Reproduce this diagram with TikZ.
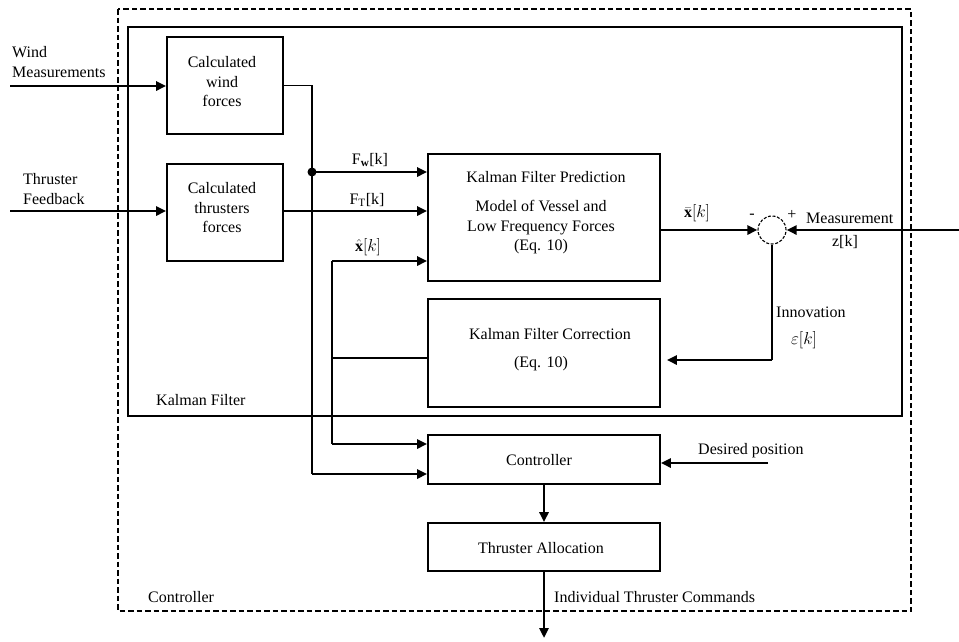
\documentclass[tikz,border=0pt]{standalone}
\usepackage{fontspec}
\setmainfont{Liberation Serif}
\usetikzlibrary{arrows.meta}
\begin{document}
\begin{tikzpicture}[x=1pt,y=-1pt,
  font=\fontsize{16}{19.5}\selectfont,
  block/.style={draw, line width=1.6pt, inner sep=0pt},
  txt/.style={inner sep=0pt, align=center},
  ltxt/.style={inner sep=0pt, align=left, anchor=west},
  flow/.style={line width=2.6pt, -{Triangle[length=10pt,width=9pt]}},
  wire/.style={line width=1.4pt},
  frame/.style={line width=1.6pt},
  outerframe/.style={line width=2.6pt, dash pattern=on 5.5pt off 3pt}]
\useasboundingbox (0,0) rectangle (959,641);

% enclosing frames
\draw[outerframe] (118,9) rectangle (911,611);
\draw[frame] (128,27) rectangle (902,416);

% blocks
\node[block, minimum width=116pt, minimum height=97pt] (windbox) at (225,85.5) {};
\node[block, minimum width=116pt, minimum height=97pt] (thrbox) at (225,212.5) {};
\node[block, minimum width=232pt, minimum height=127pt] (pred) at (544,217.5) {};
\node[block, minimum width=232pt, minimum height=108pt] (corr) at (544,353) {};
\node[block, minimum width=232pt, minimum height=49pt] (ctrl) at (544,459.5) {};
\node[block, minimum width=232pt, minimum height=48pt] (alloc) at (544,547) {};
\node[draw, circle, line width=1.1pt, dash pattern=on 3pt off 1.6pt,
      minimum size=28pt, inner sep=0pt] (sum) at (772,230) {};

% block texts
\node[txt] (windtxt) at (222,82) {Calculated\\wind\\forces};
\node[txt] (thrtxt) at (222,208) {Calculated\\thrusters\\forces};
\node[txt] (predtitle) at (546,177) {Kalman Filter Prediction};
\node[txt] (predbody) at (541,227.5) {Model of Vessel and\\Low Frequency Forces\\(Eq. 10)};
\node[txt] (corrtitle) at (550,334) {Kalman Filter Correction};
\node[txt] (correq) at (541,364) {(Eq. 10)};
\node[txt] (ctrltxt) at (539,460) {Controller};
\node[txt] (alloctxt) at (541,548) {Thruster Allocation};

% free labels
\node[ltxt] (windlbl) at (12,62) {Wind\\Measurements};
\node[ltxt] (thrlbl) at (23,189) {Thruster\\Feedback};
\node[txt] (fwlbl) at (370,160) {F$_{\mathbf{w}}$[k]};
\node[txt] (ftlbl) at (367,200) {F$_{\mathrm{T}}$[k]};
\node[txt] (xhatlbl) at (368,247) {$\hat{\mathbf{x}}[k]$};
\node[txt] (xbarlbl) at (697,213) {$\bar{\mathbf{x}}[k]$};
\node[txt] (minus) at (752,216) {-};
\node[txt] (plus) at (792,215) {+};
\node[ltxt] (measlbl) at (806,218) {Measurement};
\node[txt] (zlbl) at (845,242) {z[k]};
\node[ltxt] (innolbl) at (776,312) {Innovation};
\node[txt] (epslbl) at (804,340) {$\varepsilon[k]$};
\node[ltxt] (kflbl) at (156,400) {Kalman Filter};
\node[ltxt] (ctrllbl) at (148,597) {Controller};
\node[ltxt] (deslbl) at (698,451) {Desired position};
\node[ltxt] (cmdlbl) at (554,597) {Individual Thruster Commands};

% connector end points
\coordinate (windin) at (10,86);
\coordinate (thrin) at (10,211);
\coordinate (tap) at (312,172);
\coordinate (wlow) at (312,474);
\coordinate (xh) at (332,261);
\coordinate (xlow) at (332,444);
\coordinate (clink) at (332,358);
\coordinate (meas) at (959,230);
\coordinate (icorner) at (772,360);
\coordinate (des) at (768,463);
\coordinate (cmd) at (544,638);

% inputs
\draw[flow] (windin) -- (windin -| windbox.west);
\draw[flow] (thrin) -- (thrin -| thrbox.west);

% wind forces branch
\draw[wire] (windbox.east) -| (wlow);
\fill (tap) circle (4.5pt);
\draw[flow] (tap) -- (tap -| pred.west);
\draw[flow] (wlow) -- (wlow -| ctrl.west);

% thruster forces
\draw[flow] (thrin -| thrbox.east) -- (thrin -| pred.west);

% state estimate feedback
\draw[flow] (xh) -- (xh -| pred.west);
\draw[wire] (xh) -- (xlow);
\draw[flow] (xlow) -- (xlow -| ctrl.west);
\draw[wire] (clink) -- (clink -| corr.west);

% innovation loop
\draw[flow] (sum -| pred.east) -- (sum.west);
\draw[flow] (meas) -- (sum.east);
\draw[wire] (sum.south) -- (icorner);
\draw[flow] (icorner) -- ([xshift=6pt]icorner -| corr.east);

% controller chain
\draw[flow] (des) -- (des -| ctrl.east);
\draw[flow] (ctrl) -- (alloc);
\draw[flow] (alloc) -- (cmd);
\end{tikzpicture}
\end{document}
